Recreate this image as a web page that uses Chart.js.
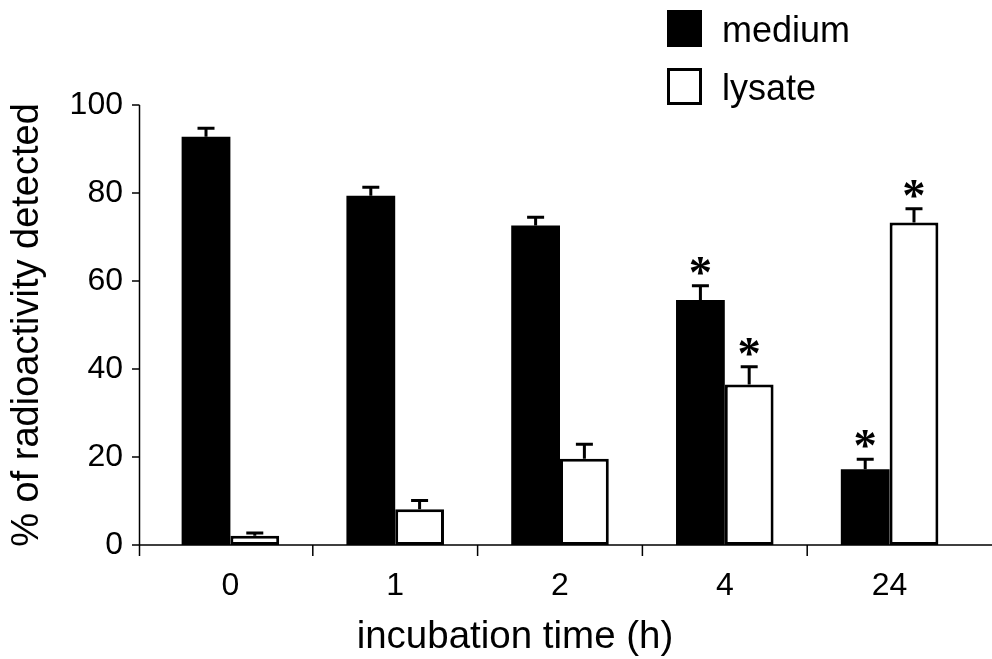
<!DOCTYPE html>
<html>
<head>
<meta charset="utf-8">
<script src="https://cdn.jsdelivr.net/npm/chart.js@4.4.0/dist/chart.umd.min.js"></script>
<style>
  html, body { margin: 0; padding: 0; background: #fff; }
  #wrap { width: 992px; height: 659px; position: relative; }
</style>
</head>
<body>
<div id="wrap"><canvas id="c" width="992" height="659"></canvas></div>
<script>
// Incubation times (h)
const categories = ['0', '1', '2', '4', '24'];
// Mean % radioactivity recovered in the medium and in the cell lysate
const mediumValues = [92.8, 79.4, 72.6, 55.7, 17.2];
const mediumSem    = [1.9, 1.9, 1.9, 3.2, 2.3];
const lysateValues = [2.1, 8.1, 19.6, 36.5, 73.3];
const lysateSem    = [0.6, 2.0, 3.3, 4.0, 3.1];
// Significance markers (*) per time point
const mediumSignificant = [false, false, false, true, true];
const lysateSignificant = [false, false, false, true, true];
// Y axis tick values
const yTicks = [0, 20, 40, 60, 80, 100];

const FONT = "'Liberation Sans', Arial, Helvetica, sans-serif";
const STAR_FONT = "'Liberation Serif', 'Times New Roman', serif";
const X_TITLE = 'incubation time (h)';

// Draws axis lines, tick marks, error bars, asterisks, x title and the legend
const decorations = {
  id: 'decorations',
  afterDatasetsDraw(chart) {
    const { ctx, chartArea, scales: { x, y } } = chart;
    const axisX = chartArea.left - 8.5;
    const y0 = y.getPixelForValue(0);
    ctx.save();
    ctx.strokeStyle = '#000';
    ctx.fillStyle = '#000';

    // axes and tick marks
    ctx.lineWidth = 1.5;
    ctx.beginPath();
    ctx.moveTo(axisX, y.getPixelForValue(yTicks[yTicks.length - 1]));
    ctx.lineTo(axisX, y0 + 11);
    ctx.moveTo(axisX, y0);
    ctx.lineTo(chart.width, y0);
    yTicks.forEach(v => {
      const p = y.getPixelForValue(v);
      ctx.moveTo(axisX - 7.5, p);
      ctx.lineTo(axisX, p);
    });
    for (let i = 0; i < categories.length - 1; i++) {
      const p = (x.getPixelForValue(i) + x.getPixelForValue(i + 1)) / 2;
      ctx.moveTo(p, y0);
      ctx.lineTo(p, y0 + 11);
    }
    ctx.stroke();

    // error bars (upper half) and significance asterisks
    const sems = [mediumSem, lysateSem];
    const sig = [mediumSignificant, lysateSignificant];
    ctx.font = `bold 40px ${STAR_FONT}`;
    const probe = ctx.measureText('*');
    const starSize = 40 * 21 / (probe.actualBoundingBoxLeft + probe.actualBoundingBoxRight);
    chart.data.datasets.forEach((ds, di) => {
      const meta = chart.getDatasetMeta(di);
      meta.data.forEach((bar, i) => {
        const capY = y.getPixelForValue(ds.data[i] + sems[di][i]);
        const cx = bar.x;
        ctx.lineWidth = 3;
        ctx.beginPath();
        ctx.moveTo(cx, bar.y);
        ctx.lineTo(cx, capY);
        ctx.moveTo(cx - 8.5, capY);
        ctx.lineTo(cx + 8.5, capY);
        ctx.stroke();
        if (sig[di][i]) {
          ctx.font = `bold ${starSize}px ${STAR_FONT}`;
          ctx.textAlign = 'center';
          ctx.textBaseline = 'alphabetic';
          const m = ctx.measureText('*');
          const centre = capY - 20;
          const base = centre + (m.actualBoundingBoxAscent - m.actualBoundingBoxDescent) / 2;
          ctx.fillText('*', cx, base);
        }
      });
    });

    // x axis title
    ctx.font = `38.5px ${FONT}`;
    ctx.textAlign = 'center';
    ctx.textBaseline = 'middle';
    ctx.fillText(X_TITLE, 515, 637);

    // legend
    const items = chart.data.datasets;
    ctx.font = `36px ${FONT}`;
    ctx.textAlign = 'left';
    ctx.textBaseline = 'alphabetic';
    items.forEach((ds, k) => {
      const top = 10 + k * 58;
      if (ds.backgroundColor === '#000') {
        ctx.fillStyle = '#000';
        ctx.fillRect(667, top, 35, 37);
      } else {
        ctx.lineWidth = 3;
        ctx.strokeRect(668.5, top + 1.5, 32, 34);
      }
      ctx.fillStyle = '#000';
      ctx.fillText(ds.label, 722, top + 32);
    });
    ctx.restore();
  }
};

new Chart(document.getElementById('c'), {
  type: 'bar',
  data: {
    labels: categories,
    datasets: [
      { label: 'medium', data: mediumValues, backgroundColor: '#000', borderColor: '#000', borderWidth: 0 },
      { label: 'lysate', data: lysateValues, backgroundColor: '#fff', borderColor: '#000', borderWidth: 3, borderSkipped: false }
    ]
  },
  options: {
    responsive: false,
    animation: false,
    devicePixelRatio: 1,
    layout: { padding: { top: 105, right: 20, left: 0, bottom: 0 } },
    datasets: { bar: { categoryPercentage: 0.592, barPercentage: 1.0 } },
    plugins: { legend: { display: false }, tooltip: { enabled: false } },
    scales: {
      x: {
        offset: true,
        grid: { display: false, drawTicks: false },
        border: { display: false },
        ticks: { font: { family: FONT, size: 32 }, color: '#000', padding: 22, maxRotation: 0 },
        title: { display: false, text: X_TITLE },
        afterFit(s) { s.height = 114; }
      },
      y: {
        min: 0,
        max: 100,
        grid: { display: false, drawTicks: false },
        border: { display: false },
        ticks: { stepSize: 20, font: { family: FONT, size: 32 }, color: '#000', padding: 25 },
        afterBuildTicks(s) { s.ticks = yTicks.map(v => ({ value: v })); },
        title: { display: true, text: '% of radioactivity detected', font: { family: FONT, size: 38 }, color: '#000', padding: { top: 5, bottom: 0 } },
        afterFit(s) { s.width = 148; }
      }
    }
  },
  plugins: [decorations]
});
</script>
</body>
</html>
